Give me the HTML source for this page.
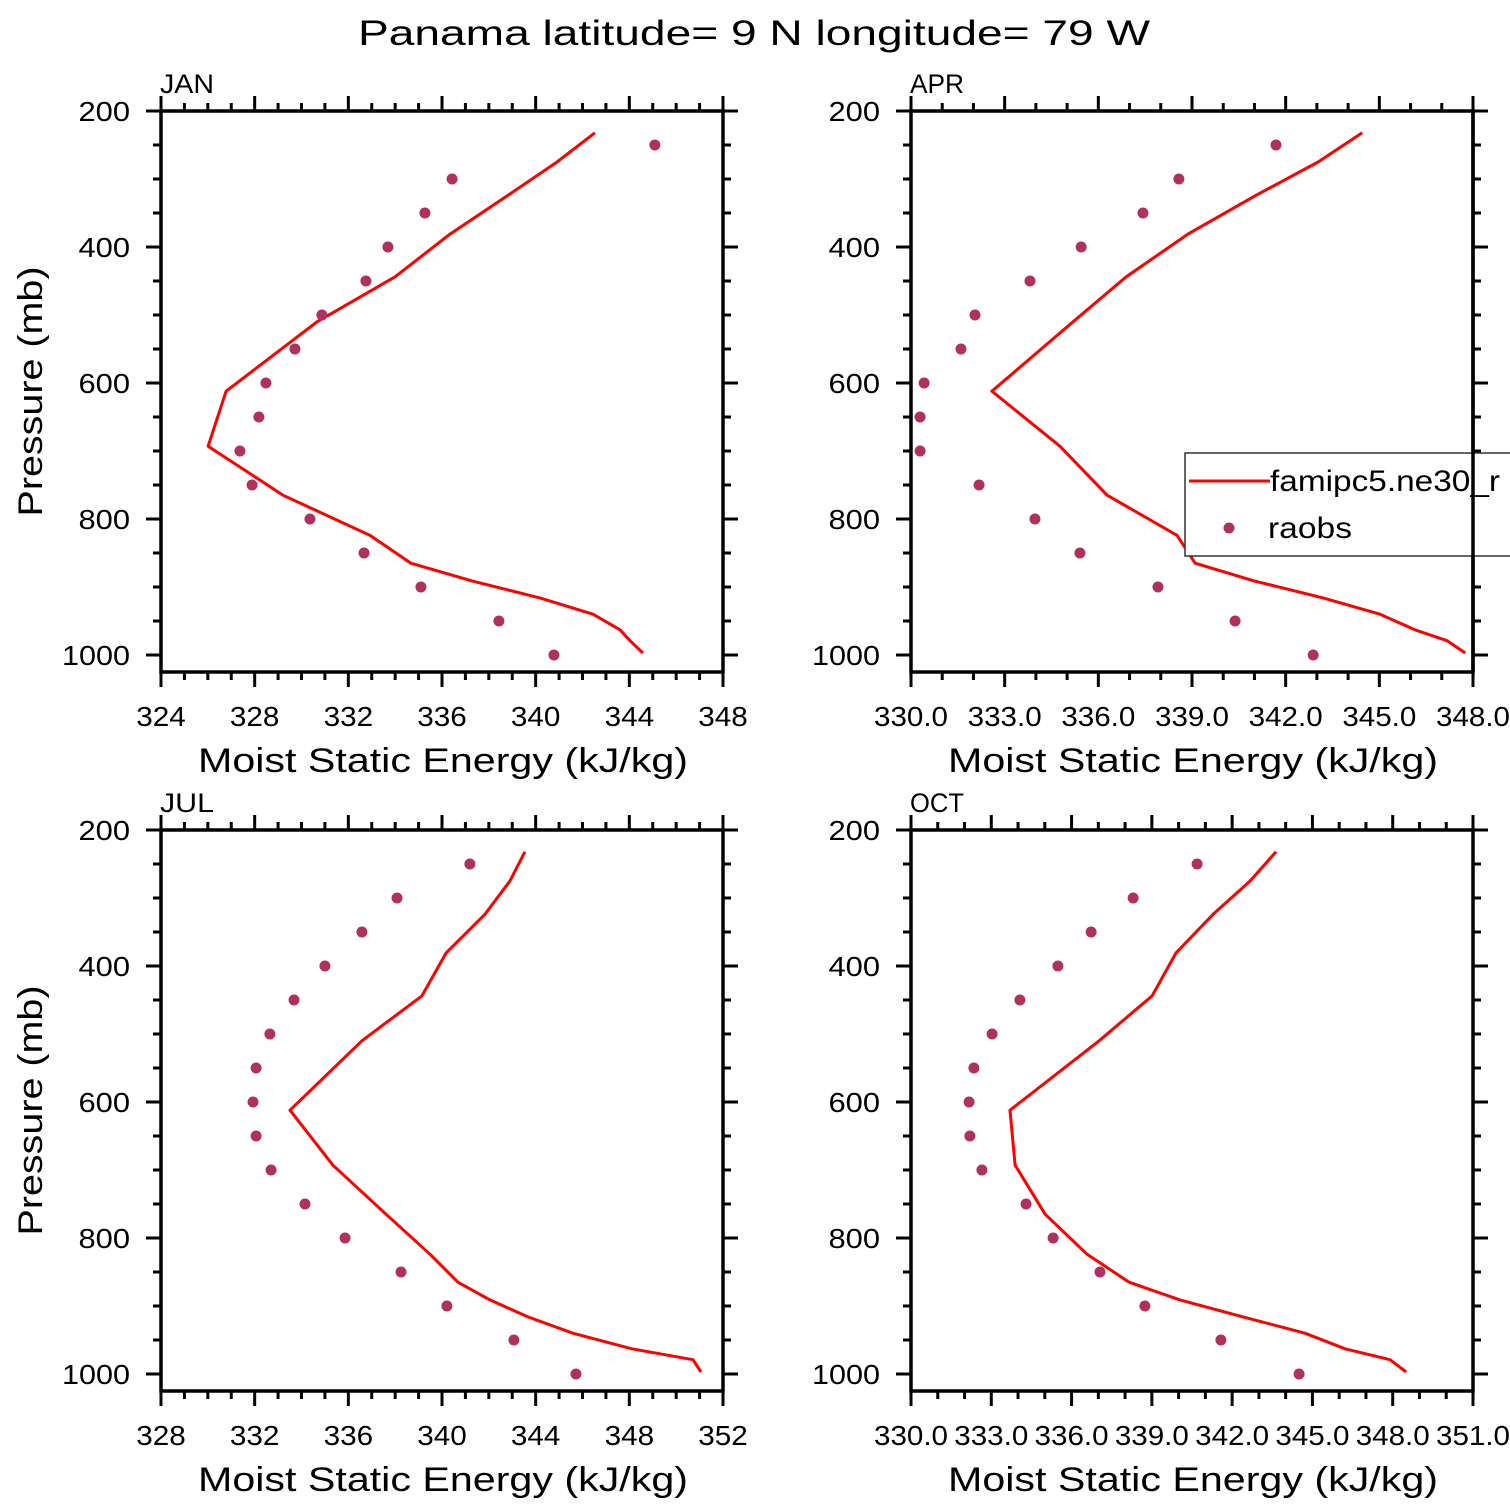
<!DOCTYPE html>
<html><head><meta charset="utf-8">
<style>
html,body{margin:0;padding:0;background:#fff;}
svg{display:block;font-family:"Liberation Sans",sans-serif;}
</style></head>
<body>
<svg id="chart" width="1510" height="1510" viewBox="0 0 1510 1510" xmlns="http://www.w3.org/2000/svg">
<rect x="0" y="0" width="1510" height="1510" fill="#fff"/>
<text x="358" y="45" font-size="35" textLength="792" lengthAdjust="spacingAndGlyphs" fill="#000">Panama  latitude= 9 N longitude= 79 W</text>
</svg>
<script>
const obsLevels = [250,300,350,400,450,500,550,600,650,700,750,800,850,900,950,1000];
const modelLevels = [232,275,324,381,444,510,612,693,765,824,865,891,916,940,963,979,997];
const janModel = [342.53,340.91,338.82,336.34,333.99,330.66,326.78,326.01,329.21,332.92,334.67,337.28,340.18,342.45,343.60,344.03,344.58];
const janObs = [345.09,336.43,335.27,333.69,332.75,330.87,329.72,328.48,328.18,327.37,327.89,330.36,332.67,335.10,338.43,340.78];
const aprModel = [344.45,343.04,341.05,338.87,336.89,335.19,332.59,334.77,336.28,338.52,339.10,340.99,343.20,345.02,346.14,347.17,347.75];
const aprObs = [341.69,338.58,337.43,335.45,333.81,332.05,331.60,330.42,330.29,330.29,332.18,333.97,335.41,337.91,340.38,342.88];
const julModel = [343.54,342.90,341.83,340.17,339.14,336.58,333.51,335.34,337.61,339.49,340.68,342.05,343.67,345.59,348.11,350.72,351.06];
const julObs = [341.19,338.08,336.58,335.00,333.68,332.65,332.06,331.93,332.06,332.70,334.15,335.86,338.25,340.21,343.07,345.72];
const octModel = [343.64,342.67,341.29,339.90,339.01,337.03,333.70,333.89,335.01,336.58,338.15,340.05,342.41,344.72,346.22,347.90,348.50];
const octObs = [340.69,338.30,336.73,335.49,334.07,333.03,332.35,332.17,332.20,332.65,334.30,335.31,337.06,338.74,341.58,344.50];
const yTickLabels = ["200","400","600","800","1000"];
const janXLabels = ["324","328","332","336","340","344","348"];
const aprXLabels = ["330.0","333.0","336.0","339.0","342.0","345.0","348.0"];
const julXLabels = ["328","332","336","340","344","348","352"];
const octXLabels = ["330.0","333.0","336.0","339.0","342.0","345.0","348.0","351.0"];

const NS="http://www.w3.org/2000/svg";
const svg=document.getElementById('chart');
function mk(tag,attrs,parent){const e=document.createElementNS(NS,tag);for(const k in attrs)e.setAttribute(k,attrs[k]);(parent||svg).appendChild(e);return e;}
function tw(s){let w=0;for(const c of s)w+=(c==='.'?8:16.5);return w;}

function panel(cfg){
  const g=mk('g',{});
  
  
  const L=cfg.x0,R=cfg.x0+562,T=cfg.y0,B=cfg.y0+561;
  const xs=v=>L+(v-cfg.xmin)/(cfg.xmax-cfg.xmin)*(R-L);
  const ys=p=>T+(p-200)*0.68;
  for(let v=cfg.xmin;v<=cfg.xmax+1e-6;v+=cfg.xminor){
    const major=Math.abs(((v-cfg.xmin)/cfg.xmajor)-Math.round((v-cfg.xmin)/cfg.xmajor))<1e-6;
    const len=major?15:8;
    const X=xs(v);
    const t1=mk('line',{x1:X,x2:X,y1:B,y2:B+len,stroke:'#000','stroke-width':3},g);
    
    
    const t2=mk('line',{x1:X,x2:X,y1:T,y2:T-len,stroke:'#000','stroke-width':3},g);
    
    
  }
  cfg.xlabels.forEach((lab,i)=>{
    const t=mk('text',{x:xs(cfg.xmin+i*cfg.xmajor),y:B+54,'font-size':28,'text-anchor':'middle',fill:'#000',textLength:tw(lab),lengthAdjust:'spacingAndGlyphs'},g);
    
    
    t.textContent=lab;
  });
  for(let p=200;p<=1000;p+=50){
    const major=p%200===0;const len=major?15:8;const Y=ys(p);
    const t1=mk('line',{x1:L,x2:L-len,y1:Y,y2:Y,stroke:'#000','stroke-width':3},g);
    
    
    const t2=mk('line',{x1:R,x2:R+len,y1:Y,y2:Y,stroke:'#000','stroke-width':3},g);
    
    
  }
  yTickLabels.forEach(lab=>{
    const t=mk('text',{x:L-31,y:ys(+lab)+10,'font-size':28,'text-anchor':'end',fill:'#000',textLength:tw(lab)+2,lengthAdjust:'spacingAndGlyphs'},g);
    
    
    t.textContent=lab;
  });
  const box=mk('rect',{x:L,y:T,width:R-L,height:B-T,fill:'none',stroke:'#000','stroke-width':3.5},g);
  
  
  const lt=mk('text',{x:L-1,y:T-18,'font-size':27,fill:'#000',textLength:54,lengthAdjust:'spacingAndGlyphs'},g);
  
  
  lt.textContent=cfg.label;
  const xt=mk('text',{x:L+37,y:B+100,'font-size':34,fill:'#000',textLength:490,lengthAdjust:'spacingAndGlyphs'},g);
  
  
  xt.textContent='Moist Static Energy (kJ/kg)';
  if(cfg.ytitle){
    const yt=mk('text',{x:0,y:0,'font-size':34,'text-anchor':'middle',fill:'#000',textLength:250,lengthAdjust:'spacingAndGlyphs',transform:`translate(42,${(T+B)/2})rotate(-90)`},g);
    
    
    yt.textContent='Pressure (mb)';
  }
  const pts=cfg.model.map((v,i)=>xs(v).toFixed(1)+','+ys(modelLevels[i]).toFixed(1)).join(' ');
  const pl=mk('polyline',{points:pts,fill:'none',stroke:'#ff0000','stroke-width':3,'stroke-linejoin':'round'},g);
  
  
  cfg.obs.forEach((v,i)=>{
    const c=mk('circle',{cx:xs(v),cy:ys(obsLevels[i]),r:5.5,fill:'#b03060'},g);
    
    
  });
}
panel({name:'jan',label:'JAN',x0:161,y0:111,xmin:324,xmax:348,xmajor:4,xminor:1,xlabels:janXLabels,model:janModel,obs:janObs,ytitle:true});
panel({name:'apr',label:'APR',x0:911,y0:111,xmin:330,xmax:348,xmajor:3,xminor:1,xlabels:aprXLabels,model:aprModel,obs:aprObs,ytitle:false});
panel({name:'jul',label:'JUL',x0:161,y0:830,xmin:328,xmax:352,xmajor:4,xminor:1,xlabels:julXLabels,model:julModel,obs:julObs,ytitle:true});
panel({name:'oct',label:'OCT',x0:911,y0:830,xmin:330,xmax:351,xmajor:3,xminor:1,xlabels:octXLabels,model:octModel,obs:octObs,ytitle:false});

const lg=mk('g',{});


const lb=mk('rect',{x:1185,y:453,width:340,height:103,fill:'#fff',stroke:'#333','stroke-width':1.5},lg);


const ll=mk('line',{x1:1189,x2:1270,y1:481,y2:481,stroke:'#ff0000','stroke-width':3},lg);


const lt1=mk('text',{x:1270,y:491,'font-size':30,fill:'#000',textLength:230,lengthAdjust:'spacingAndGlyphs'},lg);


lt1.textContent='famipc5.ne30_r';
const ld=mk('circle',{cx:1229,cy:528,r:5.5,fill:'#b03060'},lg);


const lt2=mk('text',{x:1268,y:538,'font-size':30,fill:'#000',textLength:84,lengthAdjust:'spacingAndGlyphs'},lg);


lt2.textContent='raobs';
const fe=mk('line',{x1:1473,x2:1473,y1:111,y2:672,stroke:'#000','stroke-width':3.5});


</script>
</body></html>
